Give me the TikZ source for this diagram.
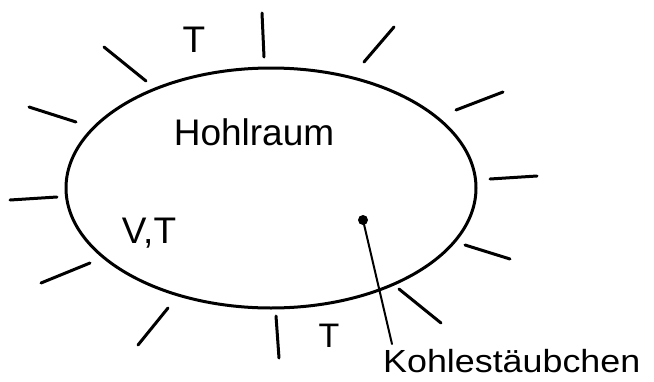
\documentclass[tikz,border=0pt]{standalone}
\usepackage{fontspec}
\setmainfont{Liberation Sans}
\begin{document}
\begin{tikzpicture}[x=1pt,y=-1pt,line cap=round,
  rim/.style={line width=3pt},
  ray/.style={line width=3pt},
  lbl/.style={inner sep=0pt,font=\fontsize{37}{42}\selectfont},
  leader/.style={line width=2pt}]
\useasboundingbox (0,0) rectangle (654,381);
% cavity
\draw[rim] (271,188) ellipse [x radius=205, y radius=120];
% radiation ticks
\draw[ray] (262,13) -- (264,57);
\draw[ray] (394,27) -- (364,62);
\draw[ray] (503,92) -- (456,110);
\draw[ray] (490,179) -- (537,176);
\draw[ray] (465,245) -- (510,259);
\draw[ray] (399,289) -- (441,323);
\draw[ray] (276,316) -- (279,358);
\draw[ray] (168,308) -- (138,345);
\draw[ray] (90,263) -- (41,283);
\draw[ray] (10,200) -- (57,197);
\draw[ray] (29,107) -- (76,122);
\draw[ray] (104,47) -- (146,81);
% labels
\node[lbl,anchor=base] (hohl) at (254,145) {Hohlraum};
\node[lbl,anchor=base] (vt) at (149,243) {V,T};
\node[lbl,anchor=base] (ttop) at (194,52) {T};
\node[lbl,anchor=base,font=\fontsize{34}{38}\selectfont] (tbot) at (329,347) {T};
\node[lbl,anchor=base west,font=\fontsize{32}{36}\selectfont] (kohle) at (383,372) {\scalebox{1.12}[1]{Kohlestäubchen}};
% particle
\node[circle,fill,inner sep=0pt,minimum size=10pt] (dot) at (363,220) {};
\coordinate (lend) at (392,344);
\draw[leader] (dot.center) -- (lend);
\end{tikzpicture}
\end{document}
